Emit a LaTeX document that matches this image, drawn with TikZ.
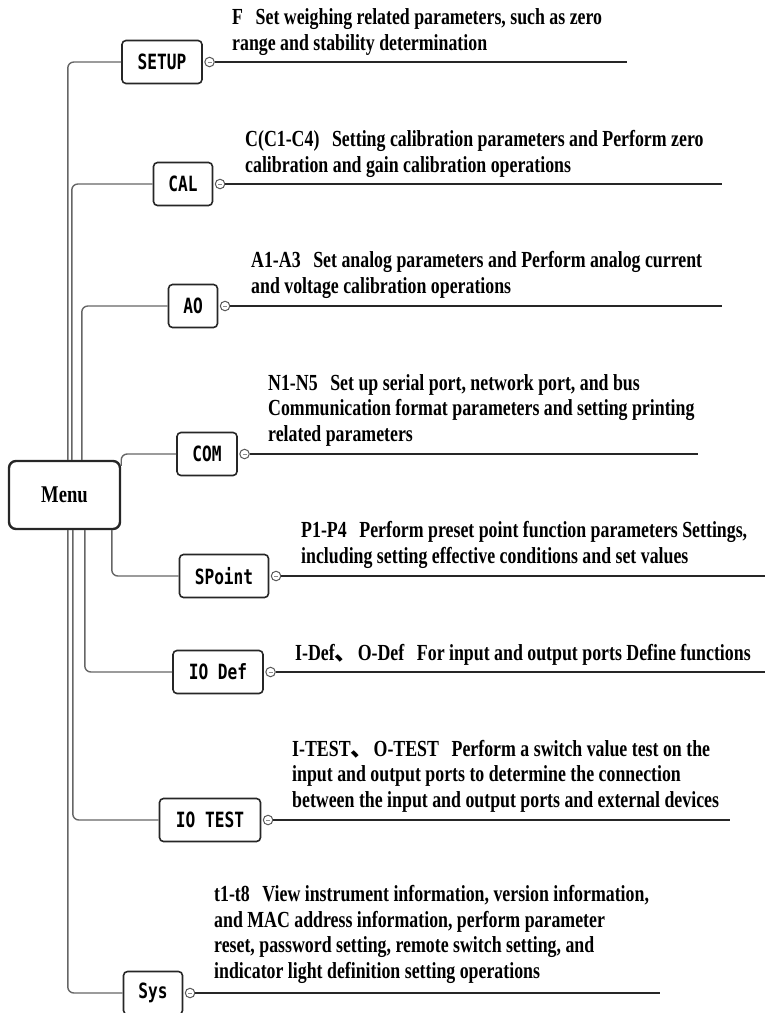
\documentclass[tikz,border=0pt]{standalone}
\usepackage{fontspec}
\usepackage{tikz}
\usetikzlibrary{positioning}
\newfontfamily\descfont{Liberation Serif}[FakeStretch=0.775]
\newfontfamily\keyfont{DejaVu Sans Mono}[FakeStretch=0.77]
\newfontfamily\cjk{Noto Sans CJK SC}
\newcommand{\gap}{\hspace{0.55em}}
\tikzset{
  itembox/.style={draw=black!85,line width=1.6pt,rounded corners=4pt,minimum height=43pt,inner sep=0pt,font=\keyfont\bfseries\fontsize{21}{24}\selectfont},
  menubox/.style={itembox,line width=2.4pt,rounded corners=7pt,minimum width=111pt,minimum height=68pt,font=\descfont\bfseries\fontsize{24}{28}\selectfont},
  knob/.style={circle,draw=black!65,fill=white,line width=1pt,minimum size=9.5pt,inner sep=0pt,
    path picture={\draw[black!45,line width=.8pt] ([xshift=-2pt]path picture bounding box.center) -- ([xshift=2pt]path picture bounding box.center);}},
  trunk/.style={black!60,line width=1.4pt,rounded corners=6pt},
  itemrule/.style={black!85,line width=1.6pt},
  desc/.style={anchor=base west,align=left,inner sep=0pt,font=\descfont\bfseries\fontsize{23}{25.5}\selectfont}
}
\begin{document}
\begin{tikzpicture}[x=1pt,y=-1pt]
            \useasboundingbox (0,0) rectangle (764,1013);
            \node[menubox] (menu) at (64.5,495) {Menu};

            \foreach \n/\t/\cx/\cy/\w/\e in {setup/SETUP/162/62/80/627,cal/CAL/183/184/59/722,ao/AO/193/306/49/722,com/COM/207/454/60/698,spoint/SPoint/224/576/89/770,iodef/IO Def/218/672/90/770,iotest/IO TEST/210/820/101/730,sys/Sys/153/993/59/660} {
            \node[itembox,minimum width=\w pt] (\n) at (\cx,\cy) {\t};
            \node[knob,right=1.5pt of \n] (\n-k) {};
            \coordinate (\n-e) at (\e,\cy);
            \draw[itemrule] (\n-k) -- (\n-e);}

            % branches out of the menu box
            \draw[trunk] ([xshift=60pt]menu.north west) |- (setup);
            \draw[trunk] ([xshift=64pt]menu.north west) |- (cal);
            \draw[trunk] ([xshift=74pt]menu.north west) |- (ao);
            \draw[trunk] ([yshift=-6pt]menu.north east) |- (com);
            \draw[trunk] ([xshift=104pt]menu.south west) |- (spoint);
            \draw[trunk] ([xshift=77pt]menu.south west) |- (iodef);
            \draw[trunk] ([xshift=65pt]menu.south west) |- (iotest);
            \draw[trunk] ([xshift=60pt]menu.south west) |- (sys);

            % texts sit on the baseline of their last line
            \node[desc] (setup-t) at (232,50) {F\gap Set weighing related parameters, such as zero\\range and stability determination};
            \node[desc] (cal-t) at (245,172) {C(C1-C4)\gap Setting calibration parameters and Perform zero\\calibration and gain calibration operations};
            \node[desc] (ao-t) at (251,293) {A1-A3\gap Set analog parameters and Perform analog current\\and voltage calibration operations};
            \node[desc] (com-t) at (268,441) {N1-N5\gap Set up serial port, network port, and bus\\Communication format parameters and setting printing\\related parameters};
            \node[desc] (spoint-t) at (301,563) {P1-P4\gap Perform preset point function parameters Settings,\\including setting effective conditions and set values};
            \node[desc] (iodef-t) at (295,660) {I-Def{\cjk 、}O-Def\gap For input and output ports Define functions};
            \node[desc] (iotest-t) at (292,807) {I-TEST{\cjk 、}O-TEST\gap Perform a switch value test on the\\input and output ports to determine the connection\\between the input and output ports and external devices};
            \node[desc] (sys-t) at (214,978) {t1-t8\gap View instrument information, version information,\\and MAC address information, perform parameter\\reset, password setting, remote switch setting, and\\indicator light definition setting operations};
        \end{tikzpicture}
\end{document}
